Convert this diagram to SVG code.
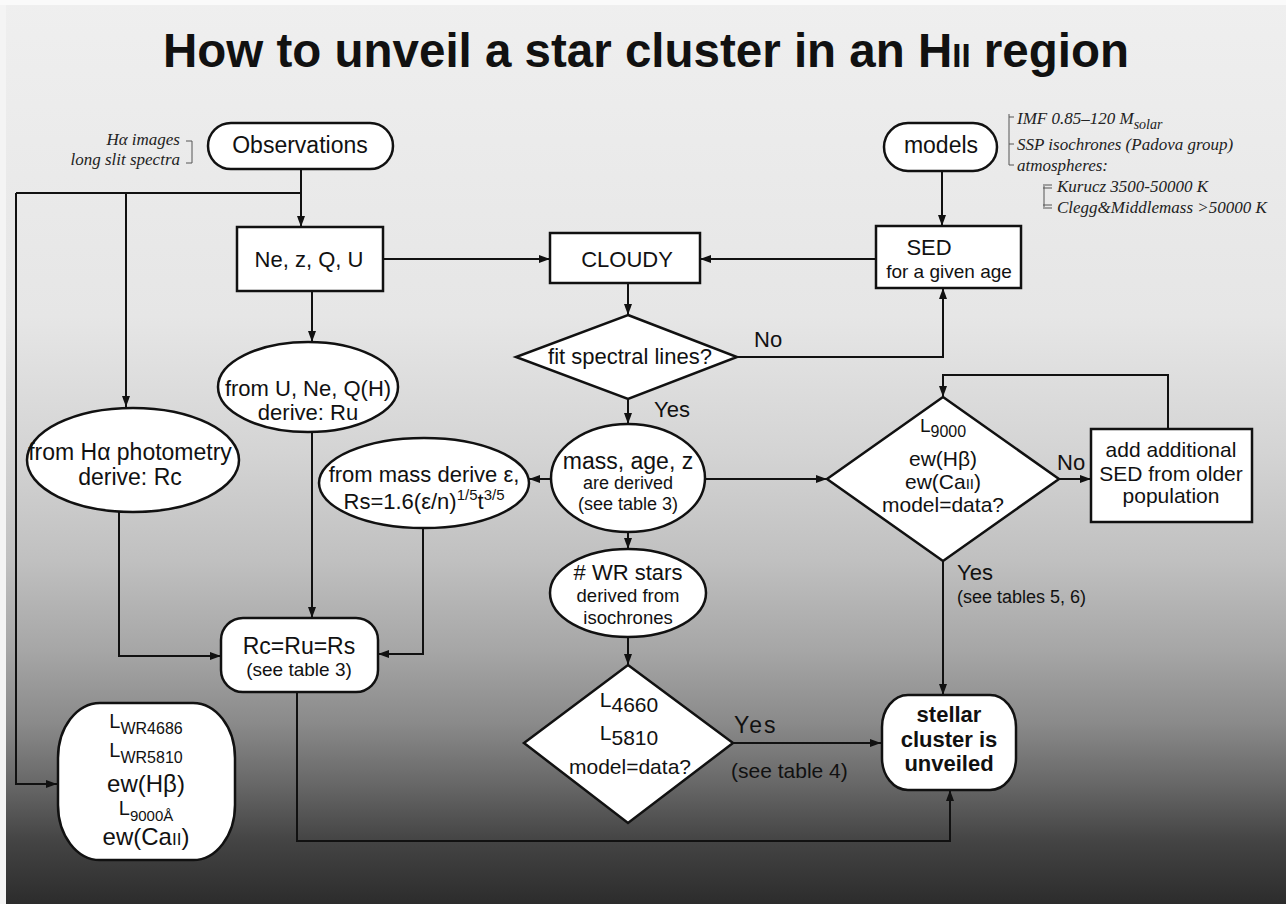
<svg xmlns="http://www.w3.org/2000/svg" width="1286" height="904" viewBox="0 0 1286 904">
<defs>
<linearGradient id="bg" x1="0" y1="0" x2="0" y2="1">
<stop offset="0" stop-color="#efefef"/>
<stop offset="0.35" stop-color="#e6e6e6"/>
<stop offset="0.5" stop-color="#d4d4d4"/>
<stop offset="0.62" stop-color="#c0c0c0"/>
<stop offset="0.72" stop-color="#a6a6a6"/>
<stop offset="0.8" stop-color="#8a8a8a"/>
<stop offset="0.87" stop-color="#666666"/>
<stop offset="0.93" stop-color="#444444"/>
<stop offset="1" stop-color="#2c2c2c"/>
</linearGradient>
<marker id="ah" markerWidth="11" markerHeight="8" refX="11" refY="4" orient="auto" markerUnits="userSpaceOnUse">
<path d="M0,0 L11,4 L0,8 z" fill="#111"/>
</marker>
<style>
.n{fill:#fff;stroke:#111;stroke-width:2.5}
.c{fill:none;stroke:#111;stroke-width:2}
.a{fill:none;stroke:#111;stroke-width:2;marker-end:url(#ah)}
.t{font-family:"Liberation Sans",Arial,sans-serif;fill:#111;text-anchor:middle}
.l{font-family:"Liberation Sans",Arial,sans-serif;fill:#111}
.s{font-family:"Liberation Serif","Times New Roman",serif;font-style:italic;fill:#222;font-size:17px}
.b{fill:none;stroke:#555;stroke-width:1}
</style>
</defs>
<rect x="0" y="0" width="1286" height="904" fill="url(#bg)"/>
<rect x="0" y="0" width="6" height="904" fill="#f4f4f4"/>
<rect x="0" y="0" width="1286" height="5" fill="#fafafa"/>

<text id="title" class="t" x="646" y="67" font-size="47.5" font-weight="bold">How to unveil a star cluster in an H<tspan font-size="33">II</tspan> region</text>

<g id="annotations">
<text class="s" x="180" y="145" text-anchor="end">Hα images</text>
<text class="s" x="180" y="165" text-anchor="end">long slit spectra</text>
<path class="b" d="M186,141 H192 V163 H186"/>
<path class="b" d="M1009,114 V165 M1009,117 H1014 M1009,144 H1014 M1009,165 H1014"/>
<text class="s" x="1017" y="124">IMF 0.85–120 M<tspan font-size="14" dy="5">solar</tspan></text>
<text class="s" x="1017" y="150">SSP isochrones (Padova group)</text>
<text class="s" x="1017" y="171">atmospheres:</text>
<path class="b" d="M1044,186 V207 M1043,185 H1052 M1043,188 H1052 M1043,205 H1052 M1043,208 H1052"/>
<text class="s" x="1057" y="192">Kurucz 3500-50000 K</text>
<text class="s" x="1057" y="213">Clegg&amp;Middlemass &gt;50000 K</text>
</g>

<g id="connectors">
<path class="c" d="M301,169 V193 M16,193 H301"/>
<path class="a" d="M301,193 V227"/>
<path class="a" d="M126,193 V407"/>
<path class="a" d="M16,193 V784 H57"/>
<path class="a" d="M312,291 V342"/>
<path class="a" d="M383,259 H550"/>
<path class="a" d="M942,171 V226"/>
<path class="a" d="M876,259 H700"/>
<path class="a" d="M628,283 V315"/>
<path class="a" d="M737,357 H943 V288"/>
<path class="a" d="M628,399 V424"/>
<path class="a" d="M552,479 H529"/>
<path class="a" d="M705,479 H827"/>
<path class="a" d="M1059,479 H1091"/>
<path class="a" d="M1168,429 V375 H943 V397"/>
<path class="a" d="M943,561 V695"/>
<path class="a" d="M628,532 V549"/>
<path class="a" d="M628,637 V665"/>
<path class="a" d="M733,743 H881"/>
<path class="a" d="M119,512 V656 H221"/>
<path class="a" d="M312,432 V618"/>
<path class="a" d="M423,527 V654 H378"/>
<path class="a" d="M297,692 V841 H950 V790"/>
<text class="l" x="754" y="347" font-size="22">No</text>
<text class="l" x="654" y="417" font-size="22">Yes</text>
<text class="l" x="1057" y="470" font-size="22">No</text>
<text class="l" x="957" y="580" font-size="22">Yes</text>
<text class="l" x="957" y="603" font-size="18">(see tables 5, 6)</text>
<text class="l" x="734" y="733" font-size="23" letter-spacing="2">Yes</text>
<text class="l" x="731" y="778" font-size="21">(see table 4)</text>
</g>

<g id="observations">
<rect class="n" x="208" y="123" width="185" height="46" rx="23"/>
<text class="t" x="300" y="153" font-size="23">Observations</text>
</g>
<g id="models">
<rect class="n" x="884" y="123" width="113" height="48" rx="24"/>
<text class="t" x="941" y="153" font-size="23">models</text>
</g>
<g id="ne">
<rect class="n" x="237" y="227" width="146" height="64"/>
<text class="t" x="309" y="267" font-size="22">Ne, z, Q, U</text>
</g>
<g id="cloudy">
<rect class="n" x="550" y="233" width="150" height="50"/>
<text class="t" x="627" y="267" font-size="22">CLOUDY</text>
</g>
<g id="sed">
<rect class="n" x="876" y="226" width="145" height="62"/>
<text class="t" x="929" y="255" font-size="22">SED</text>
<text class="t" x="949" y="278" font-size="19">for a given age</text>
</g>
<g id="fit">
<polygon class="n" points="628,315 737,357 628,399 516,357"/>
<text class="t" x="630" y="364" font-size="22">fit spectral lines?</text>
</g>
<g id="hafot">
<ellipse class="n" cx="133" cy="460" rx="106" ry="52"/>
<text class="t" x="130" y="460" font-size="23">from Hα photometry</text>
<text class="t" x="130" y="485" font-size="23">derive:  Rc</text>
</g>
<g id="uneq">
<ellipse class="n" cx="308" cy="387" rx="90" ry="45"/>
<text class="t" x="308" y="396" font-size="22">from U, Ne, Q(H)</text>
<text class="t" x="308" y="420" font-size="22">derive: Ru</text>
</g>
<g id="mass">
<ellipse class="n" cx="628" cy="478" rx="77" ry="54"/>
<text class="t" x="628" y="469" font-size="23">mass, age, z</text>
<text class="t" x="628" y="489" font-size="18">are derived</text>
<text class="t" x="628" y="510" font-size="18">(see table 3)</text>
</g>
<g id="rs">
<ellipse class="n" cx="424" cy="483" rx="105" ry="45"/>
<text class="t" x="424" y="482" font-size="22">from mass derive ε,</text>
<text class="t" x="424" y="509" font-size="22">Rs=1.6(ε/n)<tspan font-size="15" dy="-9">1/5</tspan><tspan dy="9">t</tspan><tspan font-size="15" dy="-9">3/5</tspan></text>
</g>
<g id="l9000">
<polygon class="n" points="943,397 1059,479 943,561 827,479"/>
<text class="t" x="943" y="432" font-size="19">L<tspan font-size="16" dy="5">9000</tspan></text>
<text class="t" x="943" y="466" font-size="21">ew(Hβ)</text>
<text class="t" x="943" y="489" font-size="21">ew(Ca<tspan font-size="15">II</tspan>)</text>
<text class="t" x="943" y="512" font-size="21">model=data?</text>
</g>
<g id="addsed">
<rect class="n" x="1091" y="429" width="161" height="93"/>
<text class="t" x="1171" y="457" font-size="21">add additional</text>
<text class="t" x="1171" y="481" font-size="21">SED from older</text>
<text class="t" x="1171" y="503" font-size="21">population</text>
</g>
<g id="wr">
<ellipse class="n" cx="628" cy="593" rx="78" ry="44"/>
<text class="t" x="628" y="580" font-size="22"># WR stars</text>
<text class="t" x="628" y="602" font-size="18.5">derived from</text>
<text class="t" x="628" y="624" font-size="18.5">isochrones</text>
</g>
<g id="rcrurs">
<rect class="n" x="221" y="618" width="157" height="74" rx="22"/>
<text class="t" x="299" y="654" font-size="23">Rc=Ru=Rs</text>
<text class="t" x="299" y="676" font-size="19">(see table 3)</text>
</g>
<g id="l4660">
<polygon class="n" points="628,665 733,743 628,823 524,743"/>
<text class="t" x="629" y="707" font-size="21">L<tspan dy="5">4660</tspan></text>
<text class="t" x="629" y="740" font-size="21">L<tspan dy="5">5810</tspan></text>
<text class="t" x="630" y="774" font-size="21">model=data?</text>
</g>
<g id="stellar">
<rect class="n" x="882" y="695" width="134" height="95" rx="26" ry="32"/>
<text class="t" x="949" y="722" font-size="22" font-weight="bold">stellar</text>
<text class="t" x="949" y="747" font-size="22" font-weight="bold">cluster is</text>
<text class="t" x="949" y="771" font-size="22" font-weight="bold">unveiled</text>
</g>
<g id="lwr">
<rect class="n" x="58" y="703" width="177" height="157" rx="42" ry="55"/>
<text class="t" x="146" y="728" font-size="20">L<tspan font-size="16" dy="6">WR4686</tspan></text>
<text class="t" x="146" y="757" font-size="20">L<tspan font-size="16" dy="6">WR5810</tspan></text>
<text class="t" x="146" y="792" font-size="24">ew(Hβ)</text>
<text class="t" x="146" y="815" font-size="20">L<tspan font-size="15" dy="6">9000Å</tspan></text>
<text class="t" x="146" y="845" font-size="24">ew(Ca<tspan font-size="17">II</tspan>)</text>
</g>
</svg>
